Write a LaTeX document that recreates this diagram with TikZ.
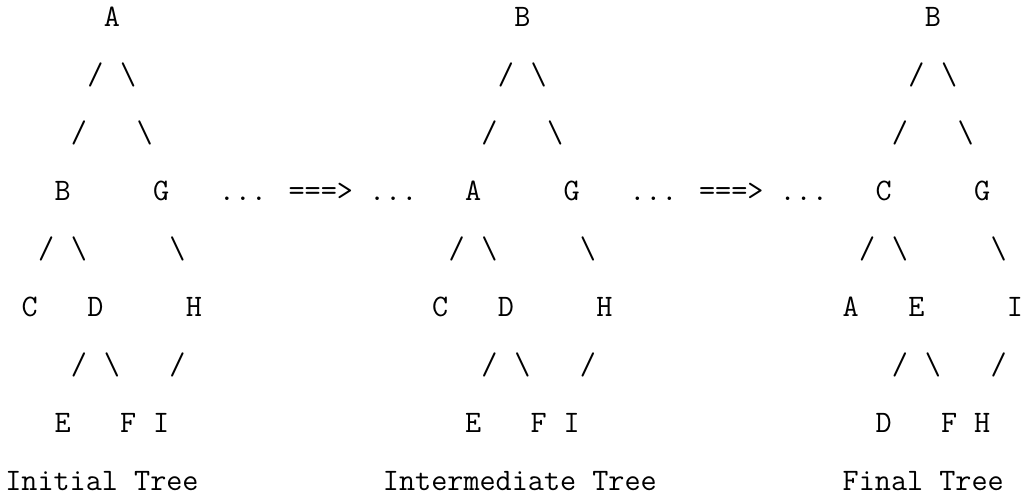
\documentclass[tikz,border=0pt]{standalone}
\usepackage{fontspec}
\newcommand\asciifont{\fontsize{15.64}{18}\selectfont\ttfamily}
% one character cell: 8.21pt wide, rows 29pt apart
\newcommand\asc[4]{\node[ascii] (#1) at ({2.645+(#2)*8.21},{-13.5-29*(#3)}) {#4};}
\begin{document}
\begin{tikzpicture}[x=1pt,y=1pt,
  ascii/.style={anchor=base west, inner sep=0pt, outer sep=0pt, font=\asciifont}]
\useasboundingbox (0,0) rectangle (511.5,-248);
\foreach \tn/\off/\ka/\kb/\kc/\kd/\ke/\kf/\kg/\kh/\kk in
  {1/0/A/B/G/C/D/H/E/F/I, 2/25/B/A/G/C/D/H/E/F/I, 3/50/B/C/G/A/E/I/D/F/H}{
  \asc{t\tn-n0}{\off+6}{0}{\ka}
  \asc{t\tn-s1}{\off+5}{1}{/}
  \asc{t\tn-s2}{\off+7}{1}{\textbackslash}
  \asc{t\tn-s3}{\off+4}{2}{/}
  \asc{t\tn-s4}{\off+8}{2}{\textbackslash}
  \asc{t\tn-n1}{\off+3}{3}{\kb}
  \asc{t\tn-n2}{\off+9}{3}{\kc}
  \asc{t\tn-s5}{\off+2}{4}{/}
  \asc{t\tn-s6}{\off+4}{4}{\textbackslash}
  \asc{t\tn-s7}{\off+10}{4}{\textbackslash}
  \asc{t\tn-n3}{\off+1}{5}{\kd}
  \asc{t\tn-n4}{\off+5}{5}{\ke}
  \asc{t\tn-n5}{\off+11}{5}{\kf}
  \asc{t\tn-s8}{\off+4}{6}{/}
  \asc{t\tn-s9}{\off+6}{6}{\textbackslash}
  \asc{t\tn-s10}{\off+10}{6}{/}
  \asc{t\tn-n6}{\off+3}{7}{\kg}
  \asc{t\tn-n7}{\off+7}{7}{\kh}
  \asc{t\tn-n8}{\off+9}{7}{\kk}
}
\asc{arr1}{13}{3}{... ===> ...}
\asc{arr2}{38}{3}{... ===> ...}
\asc{lab1}{0}{8}{Initial Tree}
\asc{lab2}{23}{8}{Intermediate Tree}
\asc{lab3}{51}{8}{Final Tree}
\end{tikzpicture}
\end{document}
